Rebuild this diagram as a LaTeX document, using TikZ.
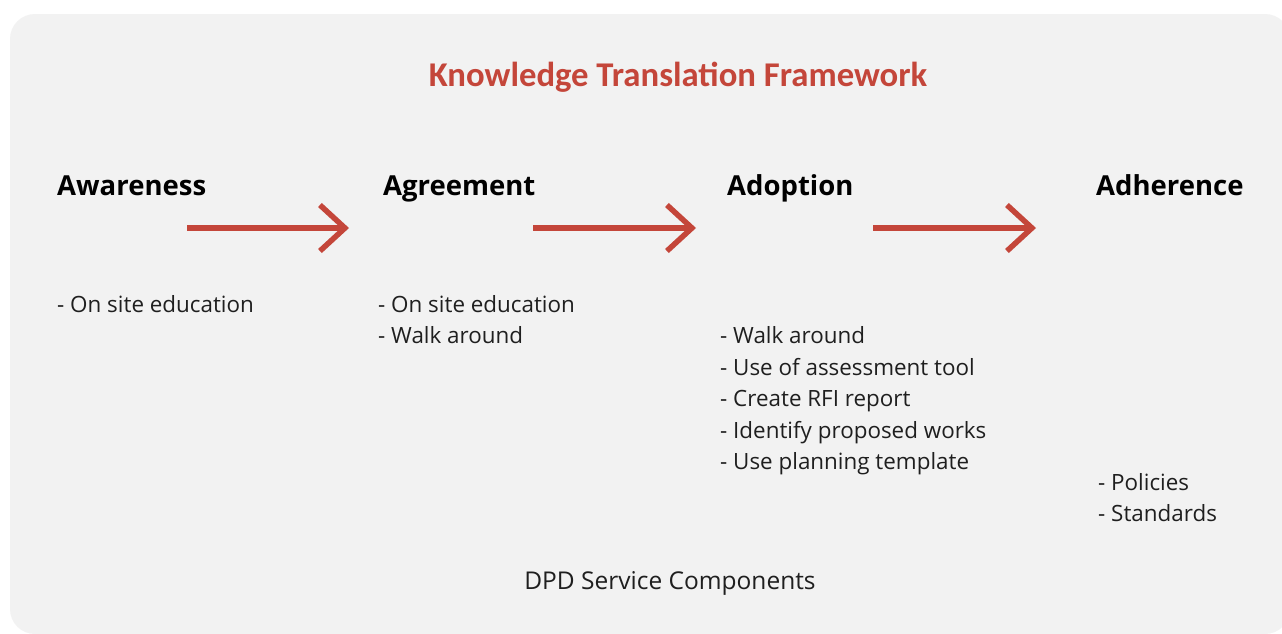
\documentclass[tikz,border=0pt]{standalone}
\usepackage{fontspec}
\setmainfont{Open Sans}
\newfontfamily\titlefont{Carlito}
\usetikzlibrary{arrows.meta,positioning}
\definecolor{ktred}{HTML}{C4463A}
\definecolor{panelgray}{HTML}{F2F2F2}
\definecolor{bodytext}{HTML}{1F1F1F}
\tikzstyle{every stage} = []
\tikzstyle{stage} = [anchor=base west, inner sep=0pt, font=\bfseries\fontsize{27.5}{30}\selectfont, every stage]
\tikzstyle{item} = [anchor=base west, inner sep=0pt, text=bodytext, font=\fontsize{22.4}{26}\selectfont]
\tikzstyle{flow} = [-{Straight Barb[length=25pt,width=46pt]}, draw=ktred, line width=5.5pt]

\begin{document}
\begin{tikzpicture}[x=1pt,y=-1pt]
    \useasboundingbox (0,0) rectangle (1282,633);
    \clip (0,0) rectangle (1282,633);
    \fill[white] (0,0) rectangle (1282,633);
    \fill[panelgray, rounded corners=25pt] (10,14) rectangle (1290,634);

    \node[anchor=base, inner sep=0pt, text=ktred, font=\titlefont\bfseries\fontsize{34.7}{40}\selectfont] (title) at (678,86) {Knowledge Translation Framework};

    % stages
    \node[stage] (aware) at (57,195) {Awareness};
    \node[stage] (agree) at (383,195) {Agreement};
    \node[stage] (adopt) at (727,195) {Adoption};
    \node[stage] (adhere) at (1096,195) {Adherence};

    \coordinate (f1s) at (187,228);  \coordinate (f1e) at (349,228);
    \coordinate (f2s) at (533,228);  \coordinate (f2e) at (696,228);
    \coordinate (f3s) at (873,228);  \coordinate (f3e) at (1036,228);
    \draw[flow] (f1s) -- (f1e);
    \draw[flow] (f2s) -- (f2e);
    \draw[flow] (f3s) -- (f3e);

    % components per stage
    \node[item] (aw0) at (57,312) {- On site education};
    \foreach \t [count=\i from 0] in {On site education, Walk around}
        \node[item] (ag\i) at (378,312+31.5*\i) {- \t};
    \foreach \t [count=\i from 0] in {Walk around, Use of assessment tool, Create RFI report, Identify proposed works, Use planning template}
        \node[item] (ad\i) at (720,343.5+31.5*\i) {- \t};
    \foreach \t [count=\i from 0] in {Policies, Standards}
        \node[item] (ah\i) at (1098,490.5+31*\i) {- \t};

    \node[anchor=base, inner sep=0pt, text=bodytext, font=\fontsize{24.5}{28}\selectfont] (dpd) at (670,589.5) {DPD Service Components};
\end{tikzpicture}
\end{document}
